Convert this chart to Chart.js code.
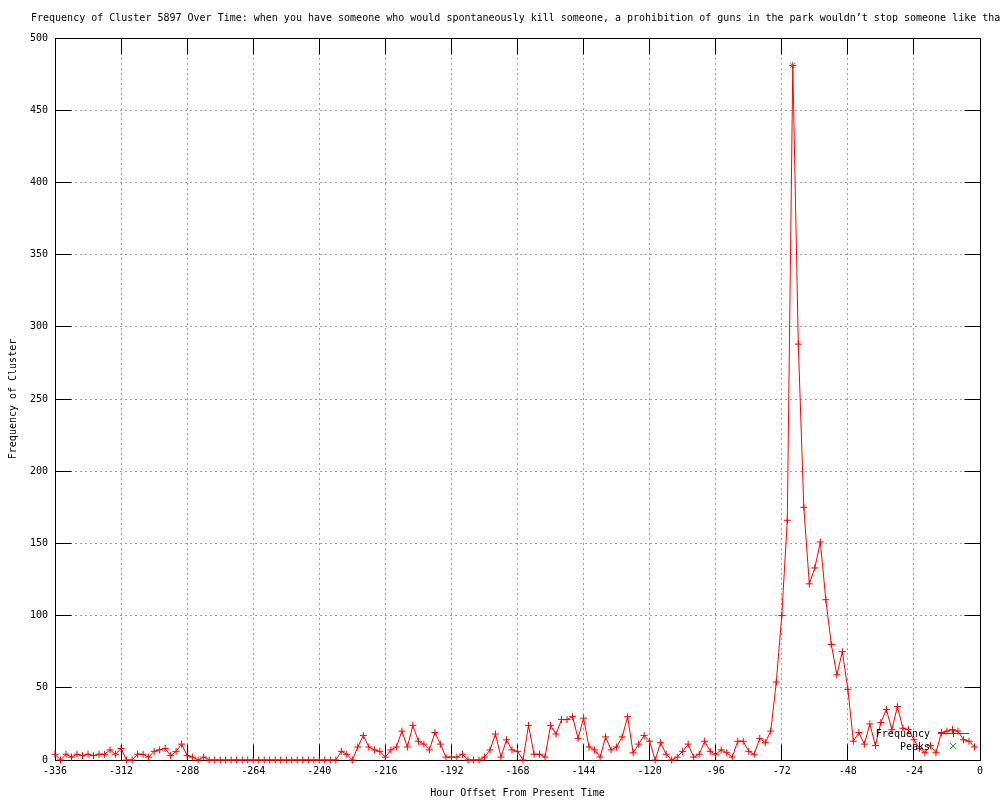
<!DOCTYPE html>
<html>
<head>
<meta charset="utf-8">
<title>Frequency of Cluster 5897 Over Time</title>
<script src="https://cdn.jsdelivr.net/npm/chart.js@4"></script>
<style>
  html, body { margin: 0; padding: 0; background: #fff; }
</style>
</head>
<body>
<canvas id="clusterChart" width="1000" height="800"></canvas>
<script>
const chartTitle = "Frequency of Cluster 5897 Over Time: when you have someone who would spontaneously kill someone, a prohibition of guns in the park wouldn\u2019t stop someone like that";
const xAxisTitle = 'Hour Offset From Present Time';
const yAxisTitle = 'Frequency of Cluster';
const legendLabels = ['Frequency', 'Peaks'];

// hour offsets (one sample every 2 hours)
const hours = [
    -336, -334, -332, -330, -328, -326, -324, -322, -320, -318, -316, -314,
    -312, -310, -308, -306, -304, -302, -300, -298, -296, -294, -292, -290,
    -288, -286, -284, -282, -280, -278, -276, -274, -272, -270, -268, -266,
    -264, -262, -260, -258, -256, -254, -252, -250, -248, -246, -244, -242,
    -240, -238, -236, -234, -232, -230, -228, -226, -224, -222, -220, -218,
    -216, -214, -212, -210, -208, -206, -204, -202, -200, -198, -196, -194,
    -192, -190, -188, -186, -184, -182, -180, -178, -176, -174, -172, -170,
    -168, -166, -164, -162, -160, -158, -156, -154, -152, -150, -148, -146,
    -144, -142, -140, -138, -136, -134, -132, -130, -128, -126, -124, -122,
    -120, -118, -116, -114, -112, -110, -108, -106, -104, -102, -100, -98,
    -96, -94, -92, -90, -88, -86, -84, -82, -80, -78, -76, -74,
    -72, -70, -68, -66, -64, -62, -60, -58, -56, -54, -52, -50,
    -48, -46, -44, -42, -40, -38, -36, -34, -32, -30, -28, -26,
    -24, -22, -20, -18, -16, -14, -12, -10, -8, -6, -4, -2
];

const frequency = [
    4, 0, 4, 2, 4, 3, 4, 3, 4, 4, 7, 4,
    8, 0, 0, 4, 4, 2, 6, 7, 8, 3, 6, 11,
    3, 2, 0, 2, 0, 0, 0, 0, 0, 0, 0, 0,
    0, 0, 0, 0, 0, 0, 0, 0, 0, 0, 0, 0,
    0, 0, 0, 0, 6, 4, 0, 9, 17, 9, 7, 6,
    2, 7, 9, 20, 9, 24, 13, 11, 7, 19, 11, 2,
    2, 2, 4, 0, 0, 0, 2, 7, 18, 2, 14, 7,
    6, 0, 24, 4, 4, 2, 24, 18, 28, 28, 30, 15,
    29, 9, 7, 2, 16, 7, 9, 16, 30, 5, 11, 17,
    13, 0, 12, 4, 0, 2, 6, 11, 2, 4, 13, 6,
    4, 7, 5, 2, 13, 13, 6, 4, 15, 12, 20, 54,
    100, 166, 481, 288, 175, 122, 133, 151, 111, 80, 59, 75,
    49, 13, 19, 11, 25, 10, 26, 35, 21, 37, 22, 21,
    14, 8, 5, 10, 5, 19, 20, 21, 20, 14, 13, 9
];

const peakHours = [-68];
const peakValues = [481];

const RED = '#ff0000';
const GREEN = '#00c000';
const FONT = '"DejaVu Sans Mono", "Liberation Mono", monospace';

Chart.defaults.font.family = FONT;
Chart.defaults.font.size = 10;
Chart.defaults.color = '#000';

// same rounding chart.js uses for 1px grid lines
const crisp = p => Math.round(p - 0.5) + 0.5;

// gnuplot style: border with inward tics on all four sides
const frameAndTics = {
    id: 'frameAndTics',
    beforeDatasetsDraw(chart) {
        const {ctx, chartArea: a, scales} = chart;
        const ticLen = 16;
        const L = crisp(a.left), R = crisp(a.right);
        const T = crisp(a.top), B = crisp(a.bottom);
        ctx.save();
        ctx.strokeStyle = '#000';
        ctx.lineWidth = 1;
        ctx.beginPath();
        ctx.rect(L, T, R - L, B - T);
        scales.x.ticks.forEach(t => {
            const px = crisp(scales.x.getPixelForValue(t.value));
            ctx.moveTo(px, B); ctx.lineTo(px, B - ticLen);
            ctx.moveTo(px, T); ctx.lineTo(px, T + ticLen);
        });
        scales.y.ticks.forEach(t => {
            const py = crisp(scales.y.getPixelForValue(t.value));
            ctx.moveTo(L, py); ctx.lineTo(L + ticLen, py);
            ctx.moveTo(R, py); ctx.lineTo(R - ticLen, py);
        });
        ctx.stroke();
        ctx.restore();
    }
};

// title and key, drawn where gnuplot puts them
const titleAndKey = {
    id: 'titleAndKey',
    afterDatasetsDraw(chart) {
        const {ctx, chartArea: a} = chart;
        ctx.save();
        ctx.font = '10px ' + FONT;
        ctx.fillStyle = '#000';
        ctx.textBaseline = 'middle';
        ctx.textAlign = 'left';
        ctx.fillText(chartTitle, 31, 18);

        const textRight = a.right - 50;
        const sx1 = a.right - 42, sx2 = a.right - 11, sc = a.right - 27;
        const row1 = a.bottom - 27, row2 = a.bottom - 14;
        ctx.textAlign = 'right';
        ctx.fillText(legendLabels[0], textRight, row1 + 1);
        ctx.fillText(legendLabels[1], textRight, row2 + 1);

        ctx.strokeStyle = RED;
        ctx.lineWidth = 1;
        ctx.beginPath();
        ctx.moveTo(sx1, row1 + 0.5); ctx.lineTo(sx2, row1 + 0.5);
        ctx.moveTo(sc + 0.5, row1 - 3); ctx.lineTo(sc + 0.5, row1 + 4);
        ctx.stroke();

        ctx.strokeStyle = GREEN;
        ctx.beginPath();
        ctx.moveTo(sc - 3, row2 - 3); ctx.lineTo(sc + 3, row2 + 3);
        ctx.moveTo(sc - 3, row2 + 3); ctx.lineTo(sc + 3, row2 - 3);
        ctx.stroke();
        ctx.restore();
    }
};

const gridStyle = { color: '#a0a0a0', lineWidth: 1, drawTicks: false };
const borderStyle = { display: false, dash: [2, 3] };

new Chart(document.getElementById('clusterChart'), {
    type: 'line',
    data: {
        datasets: [
            {
                label: legendLabels[1],
                data: peakHours.map((h, i) => ({x: h, y: peakValues[i]})),
                showLine: false,
                pointStyle: 'crossRot',
                pointRadius: 3.5,
                borderColor: GREEN,
                backgroundColor: GREEN,
                borderWidth: 1,
                clip: false,
                order: 0
            },
            {
                label: legendLabels[0],
                data: hours.map((h, i) => ({x: h, y: frequency[i]})),
                borderColor: RED,
                backgroundColor: RED,
                borderWidth: 1,
                tension: 0,
                pointStyle: 'cross',
                pointRadius: 3.5,
                pointBorderWidth: 1,
                clip: false,
                order: 1
            }
        ]
    },
    options: {
        responsive: false,
        animation: false,
        events: [],
        layout: { padding: { top: 38, right: 20, left: 0, bottom: 0 } },
        plugins: {
            legend: { display: false },
            tooltip: { enabled: false },
            title: { display: false }
        },
        scales: {
            x: {
                type: 'linear',
                min: -336,
                max: 0,
                grid: gridStyle,
                border: borderStyle,
                ticks: { stepSize: 24, autoSkip: false, maxRotation: 0, padding: 5 },
                title: { display: true, text: xAxisTitle, padding: { top: 0, bottom: 1 } },
                afterFit(scale) { scale.height = 40; }
            },
            y: {
                type: 'linear',
                min: 0,
                max: 500,
                grid: gridStyle,
                border: borderStyle,
                ticks: { stepSize: 50, padding: 7 },
                title: { display: true, text: yAxisTitle, padding: { top: 7, bottom: 0 } },
                afterFit(scale) { scale.width = 55; }
            }
        }
    },
    plugins: [frameAndTics, titleAndKey]
});
</script>
</body>
</html>
